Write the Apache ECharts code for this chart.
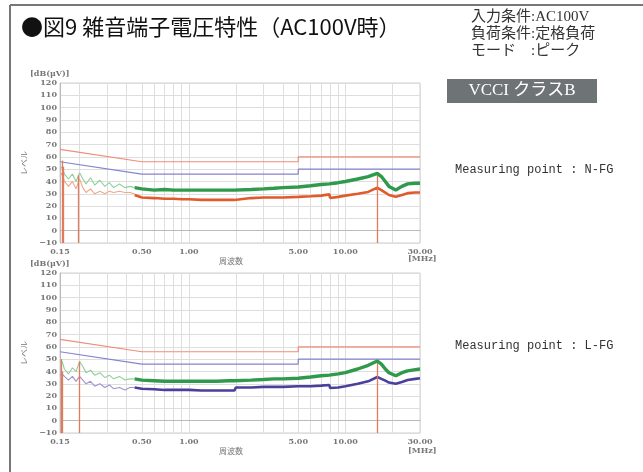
<!DOCTYPE html>
<html>
<head>
<meta charset="utf-8">
<script src="https://cdn.jsdelivr.net/npm/echarts@6/dist/echarts.min.js"></script>
<style>
  html, body { margin: 0; padding: 0; background: #fff; }
  #chart { width: 643px; height: 472px; }
</style>
</head>
<body>
<div id="chart"></div>
<script>
// ---- frequency points (MHz) ----
const lowFreq = [0.15, 0.155, 0.16, 0.17, 0.18, 0.19, 0.2, 0.21, 0.22, 0.235, 0.25, 0.27, 0.29, 0.31, 0.33, 0.36, 0.39, 0.42, 0.45];
const hiFreq = [0.45, 0.5, 0.6, 0.7, 0.8, 0.9, 1.0, 1.2, 1.5, 1.8, 1.95, 2.0, 2.5, 3.0, 3.5, 4.0, 5.0, 6.0, 7.0, 7.9, 8.0, 9.0, 10, 12, 14, 16, 17, 18, 19, 21, 23, 25, 28, 30];

// ---- N-FG measurement (dBμV) ----
const nfgGreenLow = [50, 52, 46, 42, 46, 40, 47, 42, 38, 43, 37, 41, 36, 39, 35, 38, 35, 36, 35];
const nfgRedLow = [44, 47, 40, 36, 40, 34, 42, 35, 31, 34, 30, 32, 30, 32, 31, 32, 31, 31, 30];
const nfgGreenHi = [35, 34, 33, 33.5, 33, 33, 33, 33, 33, 33, 33, 33, 33.5, 34, 34.5, 35, 35.5, 36.5, 37.5, 38, 38, 39, 40, 42, 44, 46.5, 44, 40, 36, 33, 36, 38, 38.5, 38.5];
const nfgRedHi = [29, 27, 26.5, 26, 26, 25.5, 25.5, 25, 25, 25, 25, 26.5, 26.5, 27, 27, 27, 27.5, 28, 28.5, 29.5, 26.5, 27.5, 28.5, 30, 31.5, 35, 33, 31, 29, 27.5, 29, 30.5, 31, 31];

// ---- L-FG measurement (dBμV) ----
const lfgGreenLow = [49, 48, 42, 38, 43, 40, 48, 44, 39, 41, 37, 39, 35, 37, 34, 36, 33, 34, 34];
const lfgBlueLow = [37, 38, 36, 33, 36, 32, 36, 33, 30, 32, 28, 30, 27, 29, 26, 27, 25, 27, 27];
const lfgGreenHi = [34, 33, 32.5, 32, 32, 32, 32, 32, 32, 32.5, 32.5, 33, 33, 33.5, 34, 34, 34.5, 35.5, 36.5, 37, 37, 38, 39, 42, 45, 48.5, 46, 42, 39, 36.5, 39, 40.5, 41.5, 42];
const lfgBlueHi = [27, 26, 25.5, 25, 25, 25, 25, 24.5, 24.5, 24.5, 24.5, 27, 27, 27.5, 27.5, 27.5, 28, 28, 28.5, 29, 26.5, 27, 28, 30, 32, 35.5, 34, 32.5, 31, 30, 31.5, 33, 34, 34.5];

// ---- peak markers [MHz, dBμV] ----
const nfgMarkers = [[0.155, 57], [0.158, 52], [0.195, 45], [16, 46.5]];
const lfgMarkers = [[0.152, 50], [0.156, 40], [0.2, 48], [16, 48.5]];

// ---- VCCI class B limits ----
const limitFreq = [0.15, 0.5, 5, 5, 30];
const limitQp = [66, 56, 56, 60, 60];
const limitAv = [56, 46, 46, 50, 50];

// ---- axes ----
const xLabelValues = [0.15, 0.5, 1, 5, 10, 30];
const xGridValues = [0.15, 0.2, 0.3, 0.4, 0.5, 0.6, 0.7, 0.8, 0.9, 1, 2, 3, 4, 5, 6, 7, 8, 9, 10, 20, 30];
const yMin = -10, yMax = 120, yStep = 10;

const pts = (fs, vs) => fs.map((f, i) => [f, vs[i]]);

const C = {
  qp: '#ef8d78',
  av: '#8483cf',
  green: '#2f9a4c',
  greenPale: '#8fcf9a',
  red: '#e05a2c',
  redPale: '#f0a88a',
  blue: '#4a3f9c',
  bluePale: '#9d97cf',
  marker: '#e27a5e',
  grid: '#dedede',
  label: '#777'
};

const labelFont = { fontSize: 8, fontFamily: 'DejaVu Serif', fontWeight: 'bold', color: C.label };

function xAxisFor(gridIndex) {
  return {
    type: 'log', logBase: 10, gridIndex, min: 0.15, max: 30,
    axisLine: { show: true, lineStyle: { color: '#bbb' } },
    axisTick: { show: false, customValues: xGridValues },
    axisLabel: Object.assign({ customValues: xLabelValues, margin: 5,
      formatter: v => Number(v).toFixed(2) }, labelFont),
    splitLine: { show: true, lineStyle: { color: C.grid, width: 1 } },
    minorSplitLine: { show: false },
    name: '周波数', nameLocation: 'middle', nameGap: 14,
    nameTextStyle: { fontSize: 8, color: C.label, fontFamily: 'Noto Sans CJK JP', padding: [0, 18, 0, 0] }
  };
}

function yAxisFor(gridIndex) {
  return {
    type: 'value', gridIndex, min: yMin, max: yMax, interval: yStep,
    axisLine: { show: true, lineStyle: { color: '#bbb' } },
    axisTick: { show: false },
    axisLabel: Object.assign({ margin: 3, formatter: v => (v < 0 ? '−' + Math.abs(v) : String(v)) }, labelFont),
    splitLine: { show: true, lineStyle: { color: C.grid } },
    name: 'レベル', nameLocation: 'middle', nameGap: 32, nameRotate: 90,
    nameTextStyle: { fontSize: 8, color: C.label, fontFamily: 'Noto Sans CJK JP' }
  };
}

function lineSeries(idx, data, color, width, z) {
  return {
    type: 'line', xAxisIndex: idx, yAxisIndex: idx, data,
    showSymbol: false, symbol: 'none', silent: true, animation: false,
    lineStyle: { color, width }, z: z || 2
  };
}

function markerSeries(idx, markers) {
  return {
    type: 'line', xAxisIndex: idx, yAxisIndex: idx, data: [], silent: true,
    markLine: {
      silent: true, symbol: 'none', animation: false,
      label: { show: false },
      lineStyle: { color: C.marker, width: 1.3, type: 'solid' },
      data: markers.map(m => [{ coord: [m[0], m[1]] }, { coord: [m[0], yMin] }])
    }
  };
}

function panel(idx, greenLow, greenHi, otherLow, otherHi, otherColor, otherPale, markers) {
  return [
    lineSeries(idx, pts(limitFreq, limitQp), C.qp, 1.2, 3),
    lineSeries(idx, pts(limitFreq, limitAv), C.av, 1.2, 3),
    lineSeries(idx, pts(lowFreq, otherLow), otherPale, 1.1, 2),
    lineSeries(idx, pts(lowFreq, greenLow), C.greenPale, 1.1, 2),
    lineSeries(idx, pts(hiFreq, otherHi), otherColor, 2.6, 4),
    lineSeries(idx, pts(hiFreq, greenHi), C.green, 3.4, 5),
    markerSeries(idx, markers)
  ];
}

const chart = echarts.init(document.getElementById('chart'), null, { renderer: 'canvas' });

const condFont = { fontSize: 15, fontFamily: 'Liberation Serif, Noto Sans CJK JP', fill: '#333' };

chart.setOption({
  backgroundColor: '#fff',
  animation: false,
  title: {
    text: '●図9 雑音端子電圧特性（AC100V時）',
    left: 16, top: 11,
    textStyle: { fontSize: 22, fontWeight: 'normal', fontFamily: 'Noto Sans CJK JP', color: '#111' }
  },
  grid: [
    { left: 60, top: 83, width: 360, height: 160, show: true, borderColor: '#cfcfcf', borderWidth: 1 },
    { left: 60, top: 273, width: 360, height: 160, show: true, borderColor: '#cfcfcf', borderWidth: 1 }
  ],
  xAxis: [xAxisFor(0), xAxisFor(1)],
  yAxis: [yAxisFor(0), yAxisFor(1)],
  series: [].concat(
    panel(0, nfgGreenLow, nfgGreenHi, nfgRedLow, nfgRedHi, C.red, C.redPale, nfgMarkers),
    panel(1, lfgGreenLow, lfgGreenHi, lfgBlueLow, lfgBlueHi, C.blue, C.bluePale, lfgMarkers)
  ),
  graphic: [
    // outer frame
    { type: 'line', shape: { x1: 10, y1: 5, x2: 643, y2: 5 }, style: { stroke: '#777', lineWidth: 2 } },
    { type: 'line', shape: { x1: 10, y1: 5, x2: 10, y2: 472 }, style: { stroke: '#777', lineWidth: 2 } },
    // measurement conditions
    { type: 'text', left: 471, top: 10, style: Object.assign({ text: '入力条件:AC100V' }, condFont) },
    { type: 'text', left: 471, top: 27, style: Object.assign({ text: '負荷条件:定格負荷' }, condFont) },
    { type: 'text', left: 471, top: 44, style: Object.assign({ text: 'モード　:ピーク' }, condFont) },
    { type: 'rect', shape: { x: 447, y: 79, width: 150, height: 24 }, style: { fill: '#6e7376' } },
    { type: 'text', x: 522, y: 91, style: { text: 'VCCI クラスB', fill: '#fff', fontSize: 17, fontFamily: 'Liberation Serif, Noto Sans CJK JP', align: 'center', verticalAlign: 'middle' } },
    { type: 'text', x: 455, y: 170, style: { text: 'Measuring point : N-FG', fill: '#333', fontSize: 12, fontFamily: 'Liberation Mono', verticalAlign: 'middle' } },
    { type: 'text', x: 455, y: 346, style: { text: 'Measuring point : L-FG', fill: '#333', fontSize: 12, fontFamily: 'Liberation Mono', verticalAlign: 'middle' } },
    // unit labels
    { type: 'text', x: 30, y: 74, style: { text: '[dB(μV)]', fill: C.label, fontSize: 8, fontFamily: 'DejaVu Serif', fontWeight: 'bold', verticalAlign: 'middle' } },
    { type: 'text', x: 30, y: 264, style: { text: '[dB(μV)]', fill: C.label, fontSize: 8, fontFamily: 'DejaVu Serif', fontWeight: 'bold', verticalAlign: 'middle' } },
    { type: 'text', x: 408, y: 259, style: { text: '[MHz]', fill: C.label, fontSize: 8, fontFamily: 'DejaVu Serif', fontWeight: 'bold', verticalAlign: 'middle' } },
    { type: 'text', x: 408, y: 451, style: { text: '[MHz]', fill: C.label, fontSize: 8, fontFamily: 'DejaVu Serif', fontWeight: 'bold', verticalAlign: 'middle' } }
  ]
});
</script>
</body>
</html>
